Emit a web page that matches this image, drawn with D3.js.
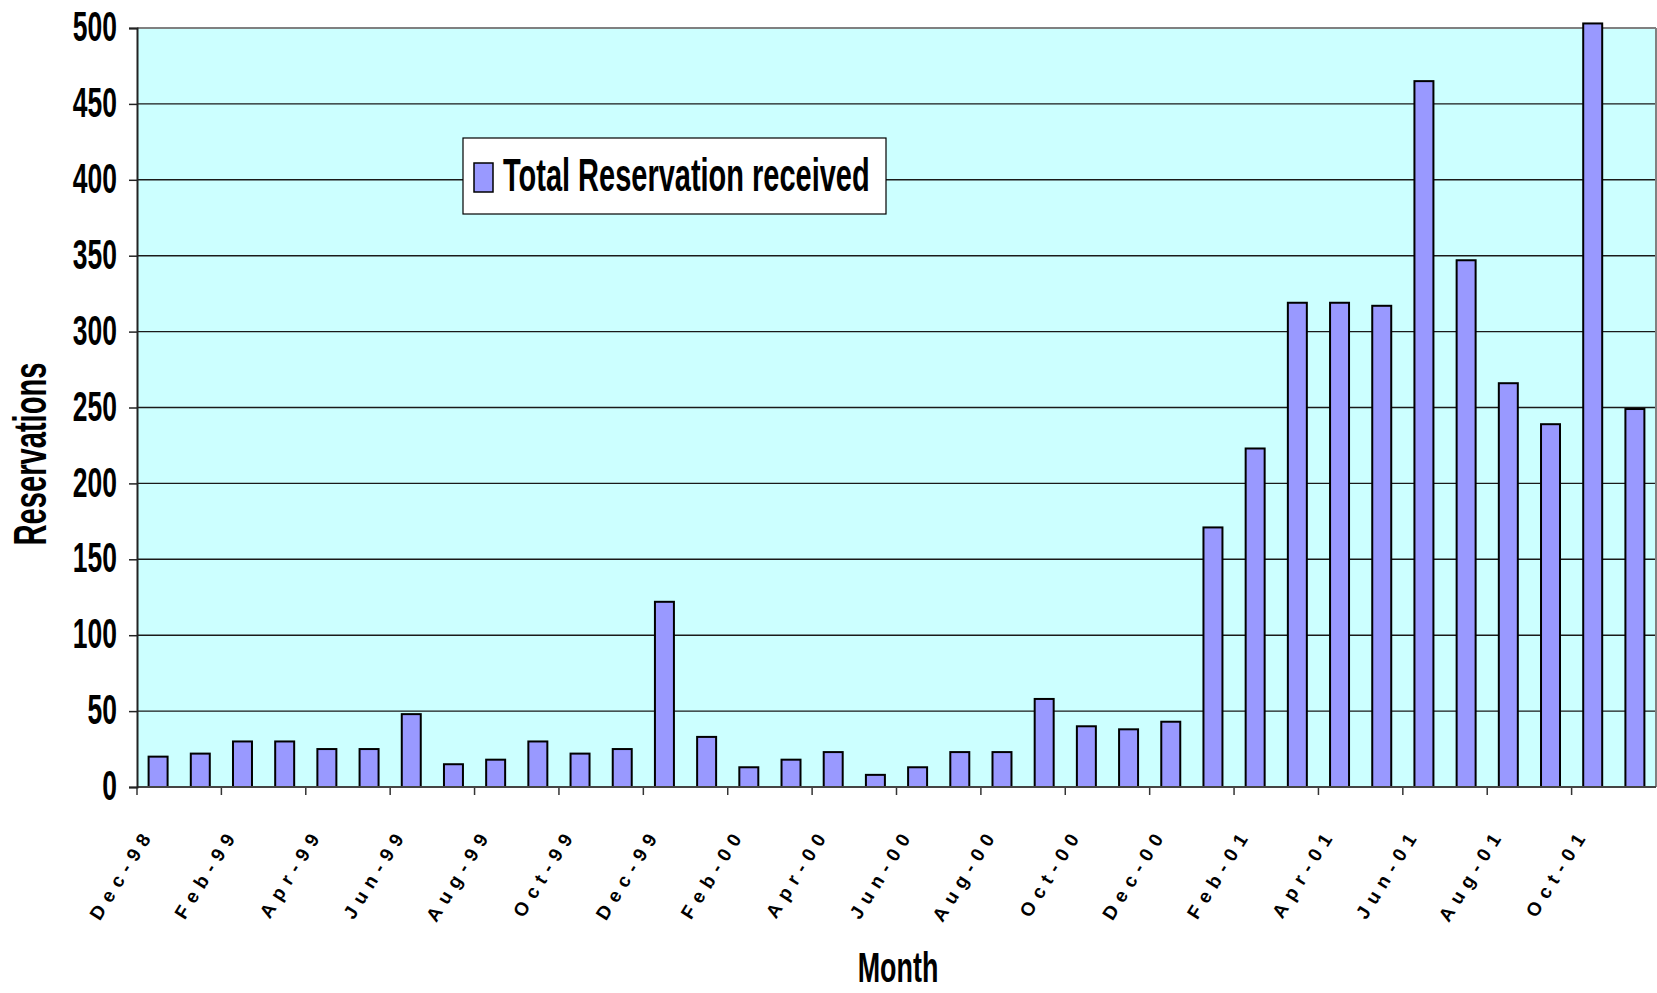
<!DOCTYPE html>
<html>
<head>
<meta charset="utf-8">
<script src="https://d3js.org/d3.v7.min.js"></script>
<style>
  body { margin: 0; background: #fff; }
  svg { display: block; }
  text { font-family: "Liberation Sans", Arial, sans-serif; font-weight: bold; fill: #000; }
</style>
</head>
<body>
<div id="chart"></div>
<script>

    const months = ["Dec-98",
                    "Jan-99","Feb-99","Mar-99","Apr-99","May-99","Jun-99",
                    "Jul-99","Aug-99","Sep-99","Oct-99","Nov-99","Dec-99",
                    "Jan-00","Feb-00","Mar-00","Apr-00","May-00","Jun-00",
                    "Jul-00","Aug-00","Sep-00","Oct-00","Nov-00","Dec-00",
                    "Jan-01","Feb-01","Mar-01","Apr-01","May-01","Jun-01",
                    "Jul-01","Aug-01","Sep-01","Oct-01","Nov-01"];

    const reservations = [20, 22, 30, 30, 25, 25, 48, 15, 18, 30, 22, 25,
                          122, 33, 13, 18, 23, 8, 13, 23, 23, 58, 40, 38,
                          43, 171, 223, 319, 319, 317, 465, 347, 266, 239, 503, 249];

    const tickLabels = ["Dec-98","Feb-99","Apr-99","Jun-99","Aug-99","Oct-99",
                        "Dec-99","Feb-00","Apr-00","Jun-00","Aug-00","Oct-00",
                        "Dec-00","Feb-01","Apr-01","Jun-01","Aug-01","Oct-01"];

    const yTicks = [0, 50, 100, 150, 200, 250, 300, 350, 400, 450, 500];

    const seriesName = "Total Reservation received";

    const w = 1657;
    const h = 993;
    const plotLeft = 137, plotRight = 1656, plotTop = 28, plotBottom = 787;
    const squeeze = 0.63;   // the original font is very condensed

    const xScale = d3.scaleBand()
                     .domain(months)
                     .range([plotLeft, plotRight])
                     .paddingInner(0.55)
                     .paddingOuter(0.275);

    const yScale = d3.scaleLinear()
                     .domain([0, 500])
                     .range([plotBottom, plotTop]);

    const svg = d3.select("#chart").append("svg")
                  .attr("width", w)
                  .attr("height", h);

    // plot area
    svg.append("rect")
       .attr("x", plotLeft).attr("y", plotTop)
       .attr("width", plotRight - plotLeft).attr("height", plotBottom - plotTop)
       .attr("fill", "#CCFFFF");

    // gridlines
    svg.append("g").selectAll("line")
       .data(yTicks.filter(d => d > 0 && d < 500))
       .enter().append("line")
       .attr("x1", plotLeft).attr("x2", plotRight)
       .attr("y1", d => yScale(d)).attr("y2", d => yScale(d))
       .attr("stroke", "#1a1a1a").attr("stroke-width", 1.4);

    // top and right border
    svg.append("line").attr("x1", plotLeft).attr("x2", plotRight)
       .attr("y1", yScale(500)).attr("y2", yScale(500))
       .attr("stroke", "#808080").attr("stroke-width", 2);
    svg.append("line").attr("x1", plotRight).attr("x2", plotRight)
       .attr("y1", plotTop).attr("y2", plotBottom)
       .attr("stroke", "#808080").attr("stroke-width", 2);

    // bars
    svg.append("g").selectAll("rect")
       .data(reservations)
       .enter().append("rect")
       .attr("x", (d, i) => xScale(months[i]))
       .attr("y", d => yScale(d))
       .attr("width", xScale.bandwidth())
       .attr("height", d => yScale(0) - yScale(d))
       .attr("fill", "#9999FF")
       .attr("stroke", "#000")
       .attr("stroke-width", 2);

    // x axis: ticks sit on the category boundaries, every 2 months
    const step = xScale.step();
    const xAxis = d3.axisBottom(xScale)
                    .tickValues(tickLabels)
                    .tickSize(8)
                    .tickSizeOuter(0);

    const gx = svg.append("g")
       .attr("transform", "translate(" + (-step / 2) + "," + plotBottom + ")")
       .call(xAxis);
    gx.select(".domain").remove();
    gx.selectAll(".tick line").attr("stroke", "#333").attr("stroke-width", 1.5);
    gx.selectAll(".tick text")
       .attr("x", null).attr("y", null).attr("dy", null)
       .attr("text-anchor", "end")
       .attr("transform", "translate(18,46) rotate(-58)")
       .style("font-size", "19px")
       .style("font-weight", "900")
       .style("letter-spacing", "7px");

    svg.append("line")
       .attr("x1", plotLeft).attr("x2", plotRight)
       .attr("y1", plotBottom).attr("y2", plotBottom)
       .attr("stroke", "#444").attr("stroke-width", 2);

    // y axis
    const yAxis = d3.axisLeft(yScale).tickValues(yTicks).tickSize(8).tickPadding(12);
    const gy = svg.append("g")
       .attr("transform", "translate(" + plotLeft + ",0)")
       .call(yAxis);
    gy.select(".domain").attr("stroke", "#222").attr("stroke-width", 2);
    gy.selectAll(".tick line").attr("stroke", "#222").attr("stroke-width", 1.5);
    gy.selectAll(".tick text")
       .style("font-size", "42px")
       .attr("dy", "0.3em")
       .attr("x", -20 / squeeze)
       .attr("transform", "scale(" + squeeze + ",1)");

    // legend
    svg.append("rect")
       .attr("x", 463).attr("y", 138).attr("width", 423).attr("height", 76)
       .attr("fill", "#fff").attr("stroke", "#000").attr("stroke-width", 1.2);
    svg.append("rect")
       .attr("x", 474).attr("y", 163).attr("width", 19).attr("height", 29)
       .attr("fill", "#9999FF").attr("stroke", "#000").attr("stroke-width", 1.5);
    svg.append("text")
       .attr("transform", "translate(503,191) scale(" + squeeze + ",1)")
       .style("font-size", "46px")
       .text(seriesName);

    // y axis title
    svg.append("text")
      .attr("transform", "translate(46,454) rotate(-90) scale(0.62,1)")
      .style("text-anchor", "middle")
      .style("font-size", "47px")
      .text("Reservations");

    // x axis title
    svg.append("text")
      .attr("transform", "translate(898,982) scale(0.64,1)")
      .style("text-anchor", "middle")
      .style("font-size", "42px")
      .text("Month");

</script>
</body>
</html>
